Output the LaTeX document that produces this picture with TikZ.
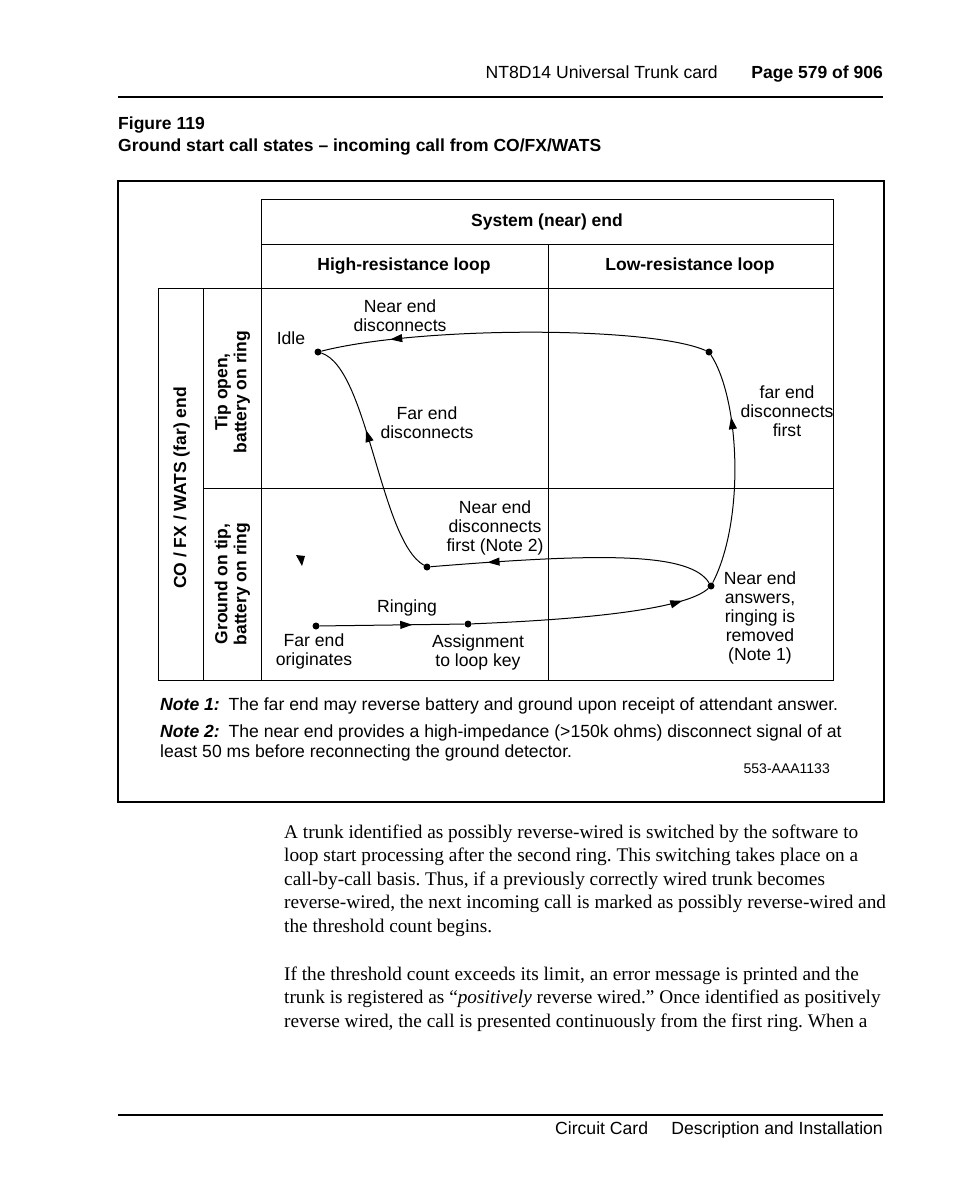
\documentclass[tikz,border=0pt]{standalone}
\usepackage{fontspec}
\setmainfont{Liberation Sans}
\newfontfamily\bodyserif{Liberation Serif}
\usetikzlibrary{arrows.meta,decorations.markings}
\begin{document}
\begin{tikzpicture}[x=1pt,y=-1pt,
  lbl/.style={font=\fontsize{17.6}{19}\selectfont, align=center, inner sep=0pt},
  hdr/.style={font=\fontsize{17.5}{19}\selectfont\bfseries, align=center, inner sep=0pt},
  gridline/.style={line width=1pt},
  flow/.style={line width=1pt},
  state/.style={circle, fill, inner sep=0pt, minimum size=7pt},
  midarrow/.style={postaction={decorate},decoration={markings,mark=at position #1 with {\arrow{Triangle[length=12pt,width=8pt]}}}},
  bodyline/.style={font=\bodyserif\fontsize{19.3}{23.5}\selectfont\frenchspacing, anchor=base west, inner sep=0pt},
]
\useasboundingbox (0,0) rectangle (954,1202);
\fill[white] (0,0) rectangle (954,1202);

% page header
\node[lbl, anchor=base east] (hdrtitle) at (718,78) {NT8D14 Universal Trunk card};
\node[hdr, anchor=base east] (hdrpage) at (883,78) {Page 579 of 906};
\draw[line width=2pt] (118,97) -- (883,97);

% figure caption
\node[hdr, anchor=base west] (fignum) at (118,129) {Figure 119};
\node[hdr, anchor=base west] (figtitle) at (118,151) {Ground start call states – incoming call from CO/FX/WATS};

% frame
\draw[line width=1.5pt] (118,181) rectangle (884,802);

% table grid
\draw[gridline] (261,199) rectangle (833,288);
\draw[gridline] (261,244) -- (833,244);
\draw[gridline] (548,244) -- (548,680);
\draw[gridline] (158,288) rectangle (833,680);
\draw[gridline] (203,288) -- (203,680);
\draw[gridline] (261,288) -- (261,680);
\draw[gridline] (203,488) -- (833,488);

\node[hdr] (sys) at (547,222) {System (near) end};
\node[hdr] (hiloop) at (404,266) {High-resistance loop};
\node[hdr] (loloop) at (690,266) {Low-resistance loop};
\node[hdr, rotate=90] (farend) at (181.5,488) {CO / FX / WATS (far) end};
\node[hdr, rotate=90] (tipopen) at (232.5,392) {Tip open,\\battery on ring};
\node[hdr, rotate=90] (gndtip) at (232.5,584) {Ground on tip,\\battery on ring};

% states
\node[state] (idle) at (318,352) {};
\node[state] (topright) at (709,352) {};
\node[state] (answer) at (711,586) {};
\node[state] (nedf) at (427,567) {};
\node[state] (orig) at (316,626) {};
\node[state] (assign) at (468,624) {};

% transitions
\draw[flow, midarrow=0.64] (orig) -- (assign);
\draw[flow, midarrow=0.88] (assign) .. controls (620,618) and (690,605) .. (answer);
\draw[flow, midarrow=0.72] (answer) .. controls (745,520) and (740,400) .. (topright);
\draw[flow, midarrow=0.82] (topright) .. controls (650,326) and (420,326) .. (idle);
\draw[flow, midarrow=0.80] (answer) .. controls (690,552) and (600,553) .. (nedf);
\draw[flow, midarrow=0.62] (nedf) .. controls (380,540) and (368,368) .. (idle);

% stray arrowhead
\fill (296,555) -- (305,556) -- (302,566) -- cycle;

% labels
\node[lbl] (lnedisc) at (400,316) {Near end\\disconnects};
\node[lbl, anchor=base] (lidle) at (291,344) {Idle};
\node[lbl] (lfedisc) at (427,423) {Far end\\disconnects};
\node[lbl] (lfedf) at (787,411) {far end\\disconnects\\first};
\node[lbl] (lnedf) at (495,527.5) {Near end\\disconnects\\first (Note 2)};
\node[lbl] (lanswer) at (760,618) {Near end\\answers,\\ringing is\\removed\\(Note 1)};
\node[lbl, anchor=base] (lring) at (407,612) {Ringing};
\node[lbl] (lorig) at (314,651) {Far end\\originates};
\node[lbl] (lassign) at (478,652) {Assignment\\to loop key};

% notes
\node[lbl, anchor=base west] (note1) at (160,710) {\textbf{\textit{Note 1:}}\enspace The far end may reverse battery and ground upon receipt of attendant answer.};
\node[lbl, anchor=base west] (note2) at (160,737) {\textbf{\textit{Note 2:}}\enspace The near end provides a high-impedance (>150k ohms) disconnect signal of at};
\node[lbl, anchor=base west] (note2b) at (160,757) {least 50 ms before reconnecting the ground detector.};
\node[lbl, anchor=base east, font=\fontsize{14}{16}\selectfont] (figid) at (830,773) {553-AAA1133};

% body text
\node[bodyline] (b1) at (284,838) {A trunk identified as possibly reverse-wired is switched by the software to};
\node[bodyline] (b2) at (284,861) {loop start processing after the second ring. This switching takes place on a};
\node[bodyline] (b3) at (284,885) {call-by-call basis. Thus, if a previously correctly wired trunk becomes};
\node[bodyline] (b4) at (284,908) {reverse-wired, the next incoming call is marked as possibly reverse-wired and};
\node[bodyline] (b5) at (284,932) {the threshold count begins.};
\node[bodyline] (b6) at (284,980) {If the threshold count exceeds its limit, an error message is printed and the};
\node[bodyline] (b7) at (284,1003) {trunk is registered as “\textit{positively} reverse wired.” Once identified as positively};
\node[bodyline] (b8) at (284,1027) {reverse wired, the call is presented continuously from the first ring. When a};

% footer
\draw[line width=2pt] (118,1115) -- (883,1115);
\node[lbl, anchor=base west] (fcc) at (555,1134) {Circuit Card};
\node[lbl, anchor=base east] (fdi) at (883,1134) {Description and Installation};
\end{tikzpicture}
\end{document}
